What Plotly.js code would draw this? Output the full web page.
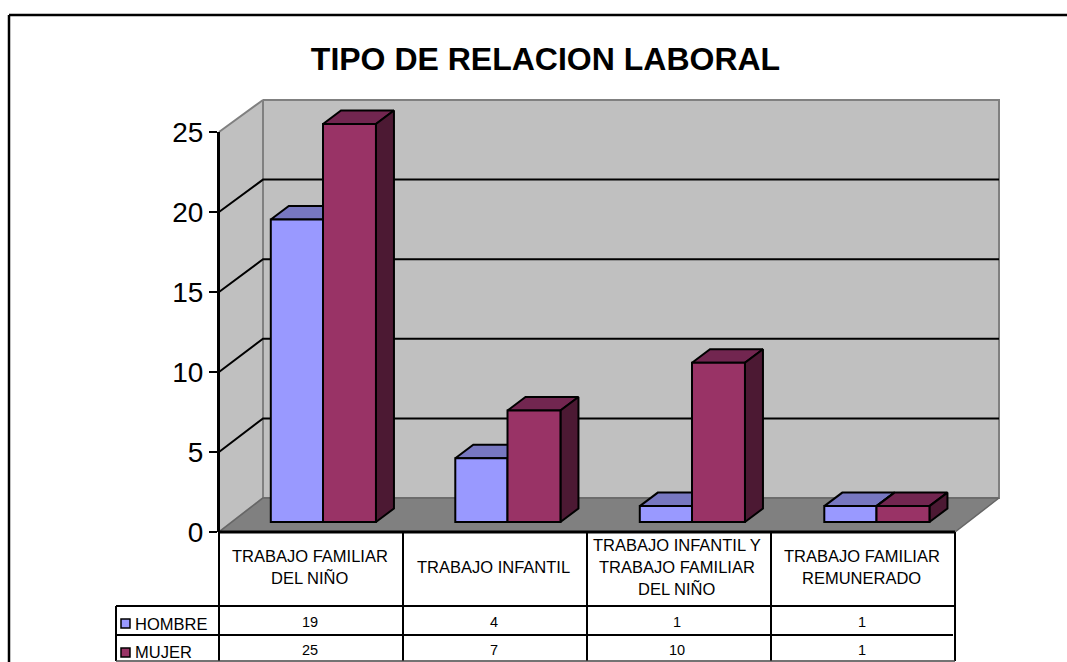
<!DOCTYPE html>
<html><head><meta charset="utf-8">
<script src="https://cdn.plot.ly/plotly-3.0.1.min.js"></script>
<style>html,body{margin:0;padding:0;background:#fff}#c{width:1067px;height:662px}</style>
</head><body><div id="c"></div>
<script>
const categories = ["TRABAJO FAMILIAR<br>DEL NIÑO","TRABAJO INFANTIL","TRABAJO INFANTIL Y<br>TRABAJO FAMILIAR<br>DEL NIÑO","TRABAJO FAMILIAR<br>REMUNERADO"];
const seriesNames = ["HOMBRE","MUJER"];
const hombre = [19,4,1,1];
const mujer = [25,7,10,1];
const yTicks = [0,5,10,15,20,25];

const W=1067,H=662;
const x0px=323, xUnit=184.5, y0px=522, yUnit=15.92;
const ax=p=>(p-x0px)/xUnit, ay=p=>(y0px-p)/yUnit;
const barH=0.283, barM=0.287, depthX=18/xUnit, depthY=13.5/yUnit;
const colors={front:["#9999FF","#993366"],top:["#7777C0","#722650"],side:["#4C4C80","#4C1933"]};
const px=p=>p/W, py=p=>1-p/H;
const FONT="Liberation Sans, Arial, sans-serif";

const poly=(pts,fill,line,lw)=>({type:"scatter",mode:"lines",xaxis:"x",yaxis:"y",hoverinfo:"skip",showlegend:false,
  x:[...pts.map(p=>ax(p[0])),ax(pts[0][0])],y:[...pts.map(p=>ay(p[1])),ay(pts[0][1])],
  fill:fill?"toself":"none",fillcolor:fill||undefined,line:{color:line,width:lw}});

const traces=[];
// walls and floor
traces.push(poly([[263,100],[999,100],[999,498],[263,498]],"#C0C0C0","#808080",2));
traces.push(poly([[219,132],[263,100],[263,498],[219,532]],"#C0C0C0","#808080",2));
traces.push(poly([[219,532],[263,498],[999,498],[955,532]],"#808080","#666666",1.5));
// gridlines on the walls
yTicks.filter(v=>v>0&&v<25).forEach(v=>{
  const b=498-v*15.92,f=532-v*16;
  traces.push({type:"scatter",mode:"lines",xaxis:"x",yaxis:"y",hoverinfo:"skip",showlegend:false,
    x:[ax(219),ax(263),ax(999)],y:[ay(f),ay(b),ay(b)],line:{color:"#000",width:2}});
});
// top and side faces of the bars, computed from the values
function faces(vals,s,l,r){
  vals.forEach((v,i)=>{
    const a=i+l,b=i+r;
    const face=(xs,ys,c)=>traces.push({type:"scatter",mode:"lines",xaxis:"x",yaxis:"y",hoverinfo:"skip",showlegend:false,
      x:xs,y:ys,fill:"toself",fillcolor:c,line:{color:"#000",width:2}});
    face([a,b,b+depthX,a+depthX,a],[v,v,v+depthY,v+depthY,v],colors.top[s]);
    face([b,b+depthX,b+depthX,b,b],[0,depthY,v+depthY,v,0],colors.side[s]);
  });
}
faces(hombre,0,-barH,0);
faces(mujer,1,0,barM);
// front faces of the bars
const xs=[0,1,2,3];
traces.push({type:"bar",name:seriesNames[0],x:xs,y:hombre,width:barH,offset:-barH,xaxis:"x2",yaxis:"y2",
  marker:{color:colors.front[0],line:{color:"#000",width:2}},showlegend:false});
traces.push({type:"bar",name:seriesNames[1],x:xs,y:mujer,width:barM,offset:0,xaxis:"x2",yaxis:"y2",
  marker:{color:colors.front[1],line:{color:"#000",width:2}},showlegend:false});
// front value axis
traces.push({type:"scatter",mode:"lines",xaxis:"x3",yaxis:"y3",hoverinfo:"skip",showlegend:false,
  x:[0,0],y:[0,25],line:{color:"#000",width:2}});

const xRange=[ax(0),ax(W)], yRange=[ay(H),ay(0)];
const hidden=r=>({range:r,visible:false,fixedrange:true});
const shapes=[];
const ln=(x0,y0,x1,y1,w,c)=>shapes.push({type:"line",xref:"paper",yref:"paper",x0:px(x0),y0:py(y0),x1:px(x1),y1:py(y1),line:{color:c||"#000",width:w||2}});
// outer frame
ln(9,15,W,15,2.5); ln(9,15,9,H,2.5);
// data table
[219,403,587,771,955].forEach(x=>ln(x,532,x,661,2));
ln(116,606,219,606,2); ln(116,606,116,661,2);
ln(219,532,955,532,3);
ln(219,606,955,606,2);
ln(116,635,953,635,2);
ln(116,661,955,661,1.5,"#444");

const annotations=[];
const txt=(x,y,t,size,anchor)=>annotations.push({xref:"paper",yref:"paper",x:px(x),y:py(y),text:t,showarrow:false,
  xanchor:anchor||"center",yanchor:"middle",align:"center",font:{family:FONT,size:size,color:"#000"}});
const centers=[309.5,493.5,676.5,861.5];
categories.forEach((c,i)=>{
  const lines=c.split("<br>");
  lines.forEach((l,j)=>txt(centers[i],566.5+(j-(lines.length-1)/2)*22,l,16.5));
  txt(centers[i]+0.5,622,String(hombre[i]),14.5);
  txt(centers[i]+0.5,650,String(mujer[i]),14.5);
});
txt(133,624,seriesNames[0],16.5,"left");
txt(133,652,seriesNames[1],16.5,"left");
// legend keys
[[619,0],[648,1]].forEach(([y,s])=>shapes.push({type:"rect",xref:"paper",yref:"paper",x0:px(121),x1:px(130),y0:py(y),y1:py(y+9),fillcolor:colors.front[s],line:{color:"#000",width:1.5}}));

const layout={width:W,height:H,margin:{l:0,r:0,t:0,b:0,pad:0},paper_bgcolor:"#fff",plot_bgcolor:"rgba(0,0,0,0)",showlegend:false,
  barmode:"overlay",
  title:{text:"<b>TIPO DE RELACION LABORAL</b>",font:{family:FONT,size:32,color:"#000"},x:545.5/W,xanchor:"center",y:1-59/H,yanchor:"middle"},
  xaxis:{...hidden(xRange),domain:[0,1]},
  yaxis:{...hidden(yRange),domain:[0,1]},
  xaxis2:{...hidden(xRange),overlaying:"x"},
  yaxis2:{...hidden(yRange),overlaying:"y"},
  xaxis3:{range:[0,1],visible:false,domain:[px(219),px(955)],anchor:"y3",fixedrange:true},
  yaxis3:{range:[0,25],domain:[py(532),py(132)],anchor:"x3",side:"left",tickmode:"array",tickvals:yTicks,ticks:"outside",ticklen:8,tickwidth:2,tickcolor:"#000",
    showline:true,linecolor:"#000",linewidth:2,showgrid:false,zeroline:false,fixedrange:true,
    tickfont:{family:FONT,size:28,color:"#000"}},
  shapes,annotations};
Plotly.newPlot("c",traces,layout,{displayModeBar:false,staticPlot:true});
</script></body></html>
